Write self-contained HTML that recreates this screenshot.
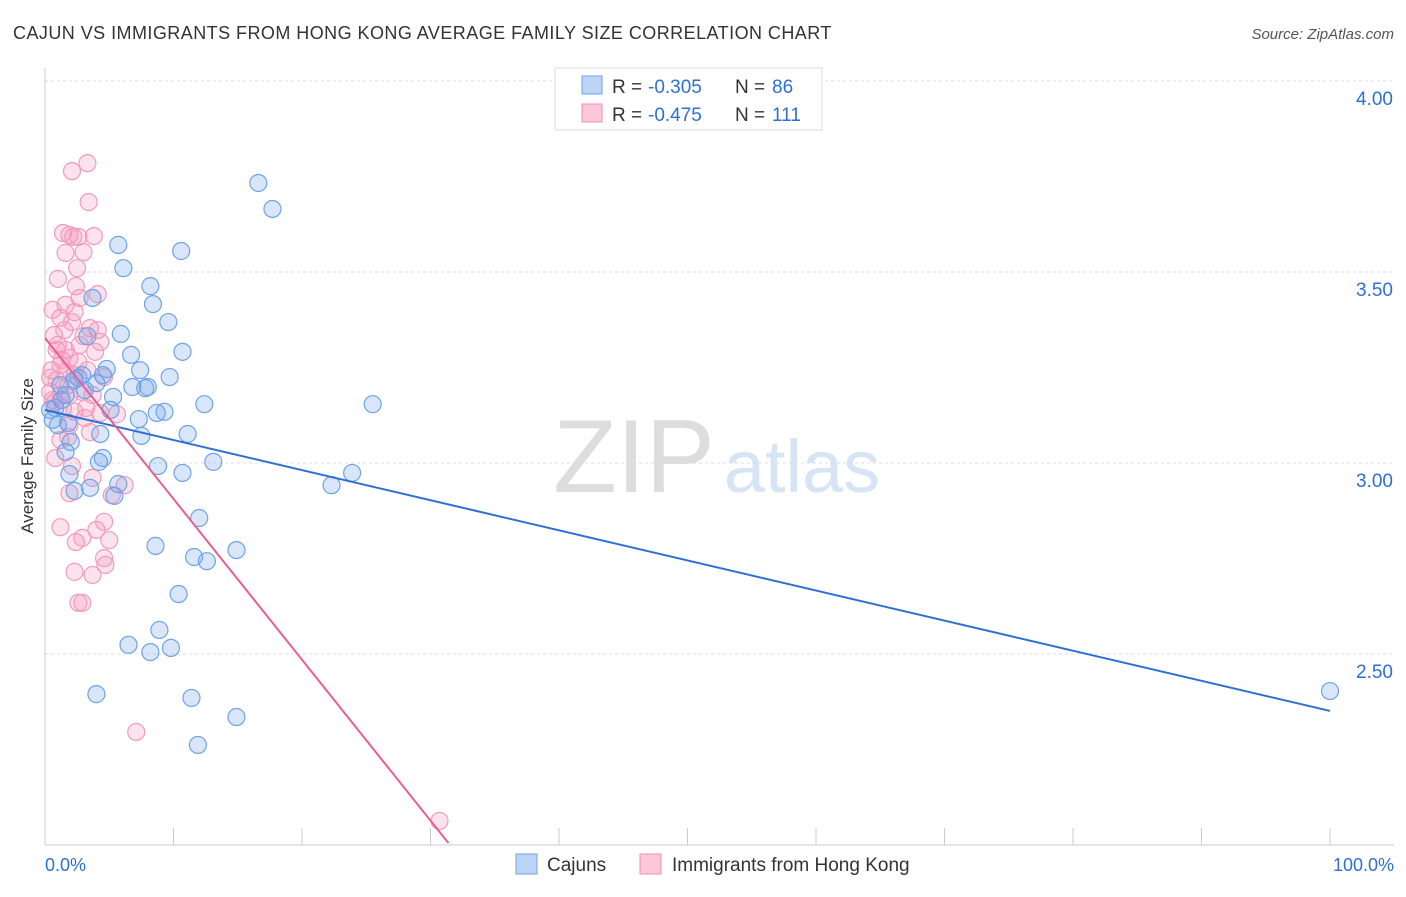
<!DOCTYPE html>
<html><head><meta charset="utf-8"><style>
body{margin:0;background:#fff;width:1406px;height:892px;overflow:hidden;font-family:"Liberation Sans",sans-serif}
svg text{font-family:"Liberation Sans",sans-serif}
</style></head><body>
<svg id="chart" width="1406" height="892">
<text x="13" y="39" font-size="18" letter-spacing="0.45" fill="#333">CAJUN VS IMMIGRANTS FROM HONG KONG AVERAGE FAMILY SIZE CORRELATION CHART</text>
<text x="1394" y="39" font-size="15" fill="#555" font-style="italic" text-anchor="end">Source: ZipAtlas.com</text>
<text x="33" y="456" font-size="17" fill="#333" text-anchor="middle" transform="rotate(-90 33 456)">Average Family Size</text>
<text x="634" y="492" font-size="104" fill="#ddd" font-family="Liberation Serif" text-anchor="middle">ZIP</text>
<text x="802" y="492" font-size="74" fill="#d6e4f5" text-anchor="middle">atlas</text>
<g id="grid"></g><g id="pts"></g><g id="lines"></g>
<g>
<rect x="555" y="68" width="267" height="62" fill="#fff" stroke="#ddd"/>
<rect x="582" y="76" width="20" height="18" fill="#bcd4f5" stroke="#6fa3e8"/>
<rect x="582" y="104" width="20" height="18" fill="#fbc8d9" stroke="#f08db0"/>
<text x="612" y="93" font-size="19" fill="#333">R =</text>
<text x="648" y="93" font-size="19" fill="#2e6fd6">-0.305</text>
<text x="735" y="93" font-size="19" fill="#333">N =</text>
<text x="772" y="93" font-size="19" fill="#2e6fd6">86</text>
<text x="612" y="121" font-size="19" fill="#333">R =</text>
<text x="648" y="121" font-size="19" fill="#2e6fd6">-0.475</text>
<text x="735" y="121" font-size="19" fill="#333">N =</text>
<text x="772" y="121" font-size="19" fill="#2e6fd6">111</text>
</g>
<g>
<rect x="516" y="854" width="21" height="20" fill="#bcd4f5" stroke="#6fa3e8"/>
<text x="547" y="871" font-size="19" fill="#333">Cajuns</text>
<rect x="640" y="854" width="21" height="20" fill="#fbc8d9" stroke="#f08db0"/>
<text x="672" y="871" font-size="19" fill="#333">Immigrants from Hong Kong</text>
</g>
<text x="45" y="871" font-size="18" fill="#2e6fd6">0.0%</text>
<text x="1394" y="871" font-size="18" fill="#2e6fd6" text-anchor="end">100.0%</text>
</svg>
<script>
const yTicks=[4.0,3.5,3.0,2.5];
const yTickLabels=["4.00","3.50","3.00","2.50"];
const xTicks=[0,10,20,30,40,50,60,70,80,90,100];
const cajunX=[16.6,17.7,5.7,10.6,6.1,8.2,8.4,3.7,9.6,5.9,3.3,10.7,6.7,7.4,9.7,4.8,4.5,2.9,2.6,4.0,6.8,8.0,7.8,5.3,12.4,25.5,0.8,5.1,8.7,9.3,7.3,1.0,1.8,11.1,7.5,4.3,2.0,1.6,4.5,4.2,8.8,13.1,10.7,23.9,1.9,5.7,3.5,22.3,5.4,2.3,12.0,8.6,14.9,11.6,12.6,10.4,8.9,6.5,8.2,9.8,4.0,11.4,14.9,11.9,100,0.4,0.6,1.3,2.3,3.1,1.2,1.6];
const cajunY=[3.733,3.665,3.571,3.555,3.510,3.463,3.416,3.432,3.369,3.338,3.332,3.291,3.283,3.243,3.225,3.246,3.230,3.230,3.223,3.209,3.199,3.199,3.196,3.173,3.154,3.154,3.144,3.139,3.131,3.134,3.115,3.099,3.105,3.076,3.071,3.076,3.055,3.029,3.013,3.003,2.992,3.003,2.974,2.974,2.971,2.945,2.935,2.942,2.914,2.927,2.856,2.783,2.772,2.754,2.743,2.657,2.563,2.524,2.505,2.516,2.395,2.385,2.335,2.262,2.403,3.139,3.113,3.165,3.217,3.191,3.204,3.178];
const hkX=[3.3,2.1,3.4,1.4,1.9,2.2,3.8,2.6,3.0,1.6,2.5,1.0,2.4,2.7,4.1,1.6,0.6,1.2,2.3,2.1,3.5,4.1,0.7,1.5,3.0,4.3,2.7,0.9,1.9,1.2,0.5,1.6,2.3,3.3,4.6,0.4,0.9,1.8,2.9,3.7,0.8,1.4,2.3,3.2,4.3,5.6,1.9,3.5,1.2,1.8,0.8,2.1,3.7,1.9,6.2,5.2,1.2,4.0,4.6,2.9,2.4,5.0,4.6,4.7,2.3,3.7,2.9,2.6,7.1,30.7,1.0,1.3,0.4,0.6,1.6,2.6,3.9,3.1,1.2,1.9];
const hkY=[3.785,3.764,3.683,3.602,3.597,3.592,3.594,3.592,3.552,3.550,3.510,3.482,3.463,3.432,3.442,3.414,3.401,3.380,3.395,3.369,3.353,3.348,3.335,3.348,3.332,3.317,3.309,3.296,3.275,3.257,3.243,3.238,3.230,3.243,3.225,3.223,3.217,3.204,3.186,3.178,3.160,3.144,3.134,3.144,3.131,3.128,3.099,3.081,3.060,3.068,3.013,2.992,2.961,2.921,2.942,2.916,2.832,2.825,2.846,2.804,2.793,2.798,2.751,2.733,2.715,2.707,2.634,2.634,2.296,2.063,3.309,3.270,3.186,3.165,3.296,3.264,3.291,3.118,3.178,3.178];
const cajunTrend=[3.139,2.351];      // value at 0% and 100%
const hkTrend=[3.327,-0.0421,31.4];  // intercept, slope per %, end %
const NS="http://www.w3.org/2000/svg";
const X=p=>45+p*12.85, Y=v=>463-(v-3)*382;
function mk(t,a,parent){const e=document.createElementNS(NS,t);for(const k in a)e.setAttribute(k,a[k]);document.getElementById(parent).appendChild(e);return e;}
yTicks.forEach((v,i)=>{
  const l=mk('line',{x1:45,x2:1394,y1:Y(v),y2:Y(v),stroke:'#ddd','stroke-dasharray':'3,3'},'grid');
  
  
  const t=mk('text',{x:1393,y:Y(v)+24,'font-size':19,fill:'#2e6fd6','text-anchor':'end'},'grid');
  t.textContent=yTickLabels[i];
  
  
});
const ax=mk('line',{x1:45,x2:1394,y1:845,y2:845,stroke:'#ccc'},'grid');


const yax=mk('line',{x1:45,x2:45,y1:68,y2:845,stroke:'#ccc'},'grid');


xTicks.forEach(p=>{
  const t=mk('line',{x1:X(p),x2:X(p),y1:828,y2:845,stroke:'#ccc'},'grid');
  
  
});
function pts(xs,ys,fill,stroke,name){
  xs.forEach((p,i)=>{
    const c=mk('circle',{cx:X(p),cy:Y(ys[i]),r:8.5,fill:fill,stroke:stroke,'stroke-width':1.2},'pts');
    
    
  });
}
pts(hkX,hkY,'rgba(244,150,185,0.28)','#f29bbb','hong-kong-point');
pts(cajunX,cajunY,'rgba(120,165,235,0.28)','#6fa3e8','cajun-point');
const bl=mk('line',{x1:X(0),y1:Y(cajunTrend[0]),x2:X(100),y2:Y(cajunTrend[1]),stroke:'#2e6fd6','stroke-width':2},'lines');


const pl=mk('line',{x1:X(0),y1:Y(hkTrend[0]),x2:X(hkTrend[2]),y2:Y(hkTrend[0]+hkTrend[1]*hkTrend[2]),stroke:'#e8608f','stroke-width':2},'lines');


</script>
</body></html>
